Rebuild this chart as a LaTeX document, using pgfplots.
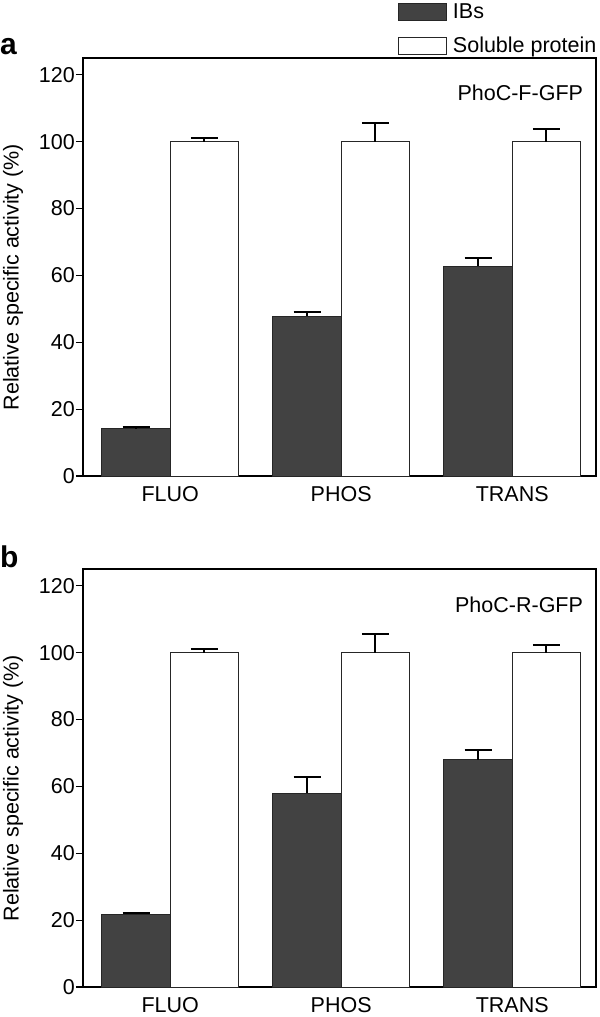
\documentclass[border=0pt]{standalone}
\usepackage{pgfplots}
\pgfplotsset{compat=1.18}
\usepackage{fontspec}
\setmainfont{Liberation Sans}
\definecolor{darkbar}{RGB}{66,66,66}
\newcommand{\lbl}{\fontsize{21.5bp}{25bp}\selectfont}
\pgfplotsset{
  panel/.style={
    width=513bp, height=418bp, scale only axis,
    anchor=south west,
    xmin=-0.51, xmax=2.49, ymin=0, ymax=125,
    xtick={0,1,2}, xticklabels={FLUO,PHOS,TRANS},
    ytick={0,20,...,120},
    ytick pos=left,
    tick align=outside,
    major tick length=7bp,
    major x tick style={draw=none},
    axis line style={line width=1.2bp},
    every tick/.style={line width=1.2bp, black},
    tick label style={font=\lbl, inner sep=0pt},
    /pgf/number format/assume math mode=true,
    yticklabel style={xshift=-1bp},
    xticklabel style={yshift=-3bp},
    ylabel={Relative specific activity (\%)},
    ylabel style={font=\lbl, inner sep=0pt, at={(axis description cs:-0.156,0.476)}, anchor=north},
    error bars/error bar style={line width=2bp, black},
    error bars/error mark options={rotate=90, line width=2bp, mark size=13.5bp, black},
  },
  ibs/.style={ybar, bar width=0.4, bar shift=0, fill=darkbar, draw=black!85, line width=0.8bp,
    error bars/.cd, y dir=plus, y explicit},
  sol/.style={ybar, bar width=0.4, bar shift=0, fill=white, draw=black!85, line width=0.8bp,
    error bars/.cd, y dir=plus, y explicit},
}
\begin{document}
\begin{tikzpicture}
\useasboundingbox (0,0) rectangle (600bp,-1017bp);
% panel a
\begin{axis}[panel, at={(83bp,-476bp)},
  legend style={at={(0.614,1.1376)}, anchor=north west, draw=none, fill=none,
    inner sep=0pt, font=\lbl, row sep=0pt, legend cell align=left},
  legend image code/.code={\draw[#1, line width=0.8bp, draw=black!85] (0bp,-8.5bp) rectangle (48bp,8.5bp);
    \path (0bp,11bp) (52bp,-22bp);},
]
\addplot[ibs] coordinates {(-0.2,14.2) +- (0,0.4) (0.8,47.8) +- (0,1.2) (1.8,62.8) +- (0,2.4)};
\addlegendentry{IBs}
\addplot[sol] coordinates {(0.2,100) +- (0,1.0) (1.2,100) +- (0,5.5) (2.2,100) +- (0,3.7)};
\addlegendentry{Soluble protein}
\node[anchor=east, font=\lbl, inner sep=0pt] at (rel axis cs:0.975,0.916) {PhoC-F-GFP};
\end{axis}
% panel b
\begin{axis}[panel, at={(83bp,-987bp)}]
\addplot[ibs] coordinates {(-0.2,21.8) +- (0,0.3) (0.8,58) +- (0,4.8) (1.8,68) +- (0,2.9)};
\addplot[sol] coordinates {(0.2,100) +- (0,1.1) (1.2,100) +- (0,5.7) (2.2,100) +- (0,2.4)};
\node[anchor=east, font=\lbl, inner sep=0pt] at (rel axis cs:0.975,0.914) {PhoC-R-GFP};
\end{axis}
\node[anchor=base west, inner sep=0pt, font=\bfseries\fontsize{30bp}{30bp}\selectfont] at (0bp,-54bp) {a};
\node[anchor=base west, inner sep=0pt, font=\bfseries\fontsize{30bp}{30bp}\selectfont] at (0bp,-567bp) {b};
\end{tikzpicture}
\end{document}
